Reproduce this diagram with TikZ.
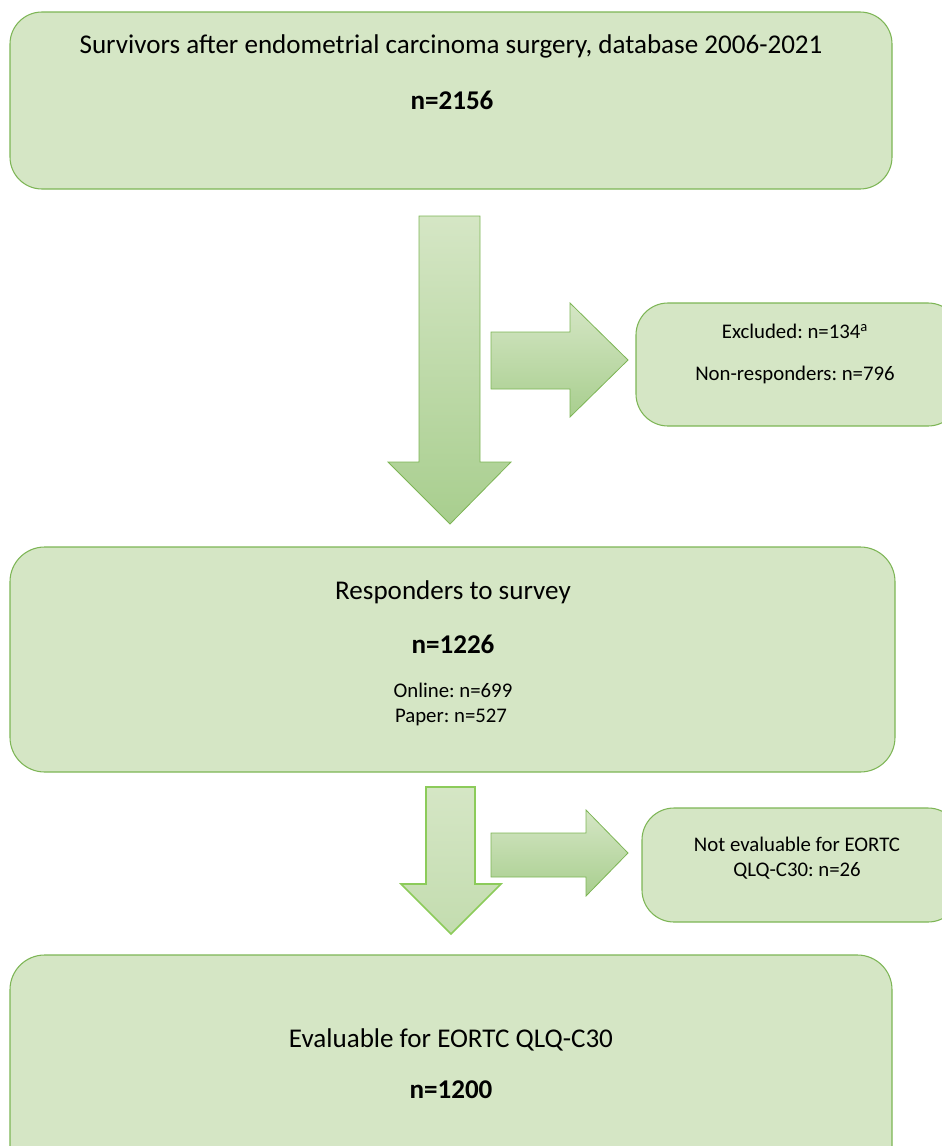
\documentclass[tikz,border=0pt]{standalone}
\usepackage{fontspec}
\setmainfont{Carlito}
\usepackage{xcolor}
\usetikzlibrary{positioning}
\frenchspacing

\definecolor{boxfill}{HTML}{D5E6C5}
\definecolor{boxline}{HTML}{7DB555}
\definecolor{arrowtop}{HTML}{D5E6C5}
\definecolor{arrowbot}{HTML}{A8CE8E}
\definecolor{arrowline}{HTML}{8CCB5A}

\begin{document}
\begin{tikzpicture}[
  x=0.75pt, y=-0.75pt,
  every node/.style={inner sep=0pt, align=center},
  box/.style={fill=boxfill, draw=boxline, line width=0.8pt, rounded corners=24pt},
  blockarrow/.style={top color=arrowtop, bottom color=arrowbot, draw=boxline, line width=0.6pt},
  bigtxt/.style={font=\fontsize{20.3}{24}\selectfont},
  bigbold/.style={font=\fontsize{20.3}{24}\selectfont\bfseries},
  smalltxt/.style={font=\fontsize{15.6}{19}\selectfont},
]
\useasboundingbox (0,0) rectangle (942,1146);

%% ── Boxes ──────────────────────────────────────────────────────────────────
\draw[box] (10,12) rectangle (892,189);
\draw[box] (636,303) rectangle (960,426);
\draw[box, rounded corners=26pt] (10,547) rectangle (895,772);
\draw[box] (642,808) rectangle (960,922);
\draw[box, rounded corners=26pt] (10,955) rectangle (892,1180);

%% ── Block arrows ───────────────────────────────────────────────────────────
\draw[blockarrow] (419,216) -- (480,216) -- (480,462) -- (511,462) -- (450,524)
  -- (388,462) -- (419,462) -- cycle;
\draw[blockarrow] (491,332) -- (570,332) -- (570,303) -- (628,360) -- (570,417)
  -- (570,389) -- (491,389) -- cycle;
\draw[blockarrow, top color=arrowtop, bottom color=arrowtop!60!arrowbot,
      draw=arrowline, line width=1.2pt]
  (426,787) -- (475,787) -- (475,884) -- (501,884) -- (451,934)
  -- (401,884) -- (426,884) -- cycle;
\draw[blockarrow] (491,833) -- (586,833) -- (586,810) -- (628,853) -- (586,896)
  -- (586,877) -- (491,877) -- cycle;

%% ── Texts ──────────────────────────────────────────────────────────────────
\node[bigtxt] (survivors) at (451,46)
  {Survivors after endometrial carcinoma surgery, database 2006-2021};
\node[bigbold] (nsurv) at (452,100) {n=2156};

\node[smalltxt] (excluded) at (795,331) {Excluded: n=134\textsuperscript{a}};
\node[smalltxt] (nonresp) at (795,375) {Non-responders: n=796};

\node[bigtxt] (responders) at (453,592) {Responders to survey};
\node[bigbold] (nresp) at (453,644) {n=1226};
\node[smalltxt] (online) at (453,690) {Online: n=699};
\node[smalltxt] (paper) at (451,717) {Paper: n=527};

\node[smalltxt] (noteval) at (797,844) {Not evaluable for EORTC};
\node[smalltxt] (qlq) at (797,871) {QLQ-C30: n=26};

\node[bigtxt] (evaluable) at (451,1040) {Evaluable for EORTC QLQ-C30};
\node[bigbold] (neval) at (451,1090) {n=1200};

\end{tikzpicture}
\end{document}
